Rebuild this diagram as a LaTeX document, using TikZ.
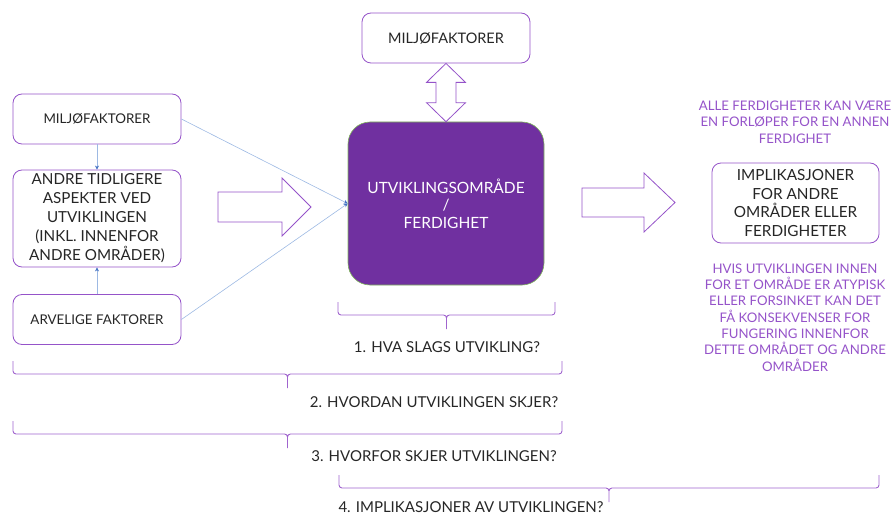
\documentclass[tikz,border=0pt]{standalone}
\usepackage{fontspec}
\setmainfont{Lato}
\usetikzlibrary{calc,arrows.meta}
\definecolor{lilla}{HTML}{9553C9}
\definecolor{morklilla}{HTML}{7030A0}
\definecolor{gronn}{HTML}{7FB65A}
\definecolor{lyseblaa}{HTML}{9DB9E3}
\definecolor{blaa}{HTML}{4472C4}
\definecolor{tekst}{HTML}{262626}
\newcommand\klamme[3]{\draw[klamme] (#1,#3) -- (#1,#3+13) -- ({(#1+#2)/2},#3+13) -- ({(#1+#2)/2},#3+27)
  ({(#1+#2)/2},#3+27) -- ({(#1+#2)/2},#3+13) -- (#2,#3+13) -- (#2,#3);}

\begin{document}
\begin{tikzpicture}[x=1pt, y=-1pt, text=tekst,
    boks/.style={draw=lilla, line width=0.8pt, rounded corners=9pt, fill=white, align=center, inner sep=0pt},
    notat/.style={text=lilla, align=center, font=\fontsize{13.2}{16.3}\selectfont},
    tynn/.style={draw=lyseblaa, line width=0.6pt, -{Stealth[length=4pt, width=4pt, color=blaa]}},
    pil/.style={draw=lilla, line width=0.8pt, fill=white},
    klamme/.style={draw=lilla!90, line width=0.9pt, rounded corners=3pt},
    sporsmal/.style={font=\fontsize{15}{17}\selectfont}]
  \useasboundingbox (0,0) rectangle (894,516);

  \node[boks, minimum width=168pt, minimum height=50pt, font=\fontsize{13.4}{16}\selectfont] (miljo) at (97,119) {MILJØFAKTORER};
  \node[boks, minimum width=168pt, minimum height=97pt, font=\fontsize{15.2}{19}\selectfont] (andre) at (97,218.5)
    {ANDRE TIDLIGERE\\ASPEKTER VED\\UTVIKLINGEN\\(INKL. INNENFOR\\ANDRE OMRÅDER)};
  \node[boks, minimum width=168pt, minimum height=50pt, font=\fontsize{13.4}{16}\selectfont] (arv) at (97,319.5) {ARVELIGE FAKTORER};
  \node[boks, minimum width=168pt, minimum height=50pt, font=\fontsize{14.5}{17}\selectfont] (miljo2) at (446,38) {MILJØFAKTORER};
  \node[draw=gronn, line width=0.6pt, fill=morklilla, rounded corners=22pt, minimum width=196pt, minimum height=163pt,
    text=white, align=center, font=\fontsize{15.5}{17.5}\selectfont] (omr) at (446,203.5) {UTVIKLINGSOMRÅDE\\/\\FERDIGHET};
  \node[boks, minimum width=167pt, minimum height=80pt, font=\fontsize{15.3}{18.5}\selectfont] (impl) at (795.5,203)
    {IMPLIKASJONER\\FOR ANDRE\\OMRÅDER ELLER\\FERDIGHETER};

  \node[notat] (forloper) at (795,122) {ALLE FERDIGHETER KAN VÆRE\\EN FORLØPER FOR EN ANNEN\\FERDIGHET};
  \node[notat] (hvis) at (795,317.5) {HVIS UTVIKLINGEN INNEN\\FOR ET OMRÅDE ER ATYPISK\\ELLER FORSINKET KAN DET\\FÅ KONSEKVENSER FOR\\FUNGERING INNENFOR\\DETTE OMRÅDET OG ANDRE\\OMRÅDER};

  \draw[tynn] (miljo) -- (andre);
  \draw[tynn] (arv) -- (andre);
  \draw[tynn] (miljo.east) -- (omr.west);
  \draw[tynn] (arv.east) -- (omr.west);

  \draw[pil] (218,192) -- (282,192) -- (282,178) -- (311,207) -- (282,236) -- (282,222) -- (218,222) -- cycle;
  \draw[pil] (582,188) -- (644,188) -- (644,173) -- (675,202.5) -- (644,232) -- (644,217) -- (582,217) -- cycle;
  \draw[pil] (miljo2.south) -- ++(19.5,19) -- ++(-9.5,0) -- ($(omr.north)+(10,-19)$) -- ++(9.5,0) -- (omr.north)
    -- ++(-19.5,-19) -- ++(9.5,0) -- ($(miljo2.south)+(-10,19)$) -- ++(-9.5,0) -- cycle;

  \klamme{338}{555}{302}
  \klamme{13}{562}{361}
  \klamme{13}{562}{421}
  \klamme{339}{879}{475}

  \node[sporsmal] (q1) at (447,347) {1. HVA SLAGS UTVIKLING?};
  \node[sporsmal] (q2) at (434,402) {2. HVORDAN UTVIKLINGEN SKJER?};
  \node[sporsmal] (q3) at (434,456) {3. HVORFOR SKJER UTVIKLINGEN?};
  \node[sporsmal] (q4) at (471,507) {4. IMPLIKASJONER AV UTVIKLINGEN?};
\end{tikzpicture}
\end{document}
